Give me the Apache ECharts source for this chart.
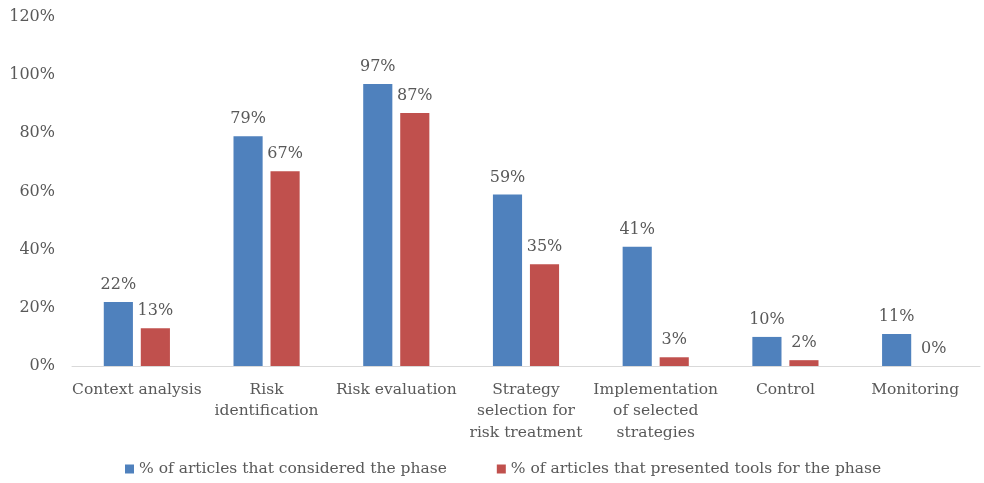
<!DOCTYPE html>
<html>
<head>
<meta charset="utf-8">
<script src="https://cdn.jsdelivr.net/npm/echarts@6/dist/echarts.min.js"></script>
<style>
  html, body { margin: 0; padding: 0; background: #fff; }
  #chart { width: 984px; height: 483px; }
</style>
</head>
<body>
<div id="chart"></div>
<script>
var categories = ['Context analysis', 'Risk\nidentification', 'Risk evaluation',
    'Strategy\nselection for\nrisk treatment', 'Implementation\nof selected\nstrategies',
    'Control', 'Monitoring'];
var considered = [22, 79, 97, 59, 41, 10, 11];
var presented = [13, 67, 87, 35, 3, 2, 0];
var seriesNames = ['% of articles that considered the phase', '% of articles that presented tools for the phase'];

var font = '"DejaVu Serif", serif';
var textColor = '#595959';

var chart = echarts.init(document.getElementById('chart'));
chart.setOption({
    animation: false,
    textStyle: { fontFamily: font },
    grid: { left: 72, right: 4, top: 17, bottom: 117 },
    legend: {
        bottom: 1,
        left: 120,
        itemWidth: 9,
        itemHeight: 9,
        itemGap: 50,
        icon: 'rect',
        textStyle: { fontFamily: font, fontSize: 15.5, color: textColor },
        data: seriesNames
    },
    xAxis: {
        type: 'category',
        data: categories,
        axisLine: { lineStyle: { color: '#d9d9d9' } },
        axisTick: { show: false },
        axisLabel: { fontSize: 15.5, color: textColor, lineHeight: 21.5, margin: 13, interval: 0 }
    },
    yAxis: {
        type: 'value',
        min: 0,
        max: 120,
        interval: 20,
        splitLine: { show: false },
        axisLine: { show: false },
        axisTick: { show: false },
        axisLabel: { fontSize: 16, color: textColor, margin: 17, formatter: '{value}%' }
    },
    series: [{
        name: seriesNames[0],
        type: 'bar',
        data: considered,
        barGap: '27%',
        barCategoryGap: '49%',
        itemStyle: { color: '#4F81BD' },
        label: { show: true, position: 'top', distance: 9, fontSize: 16, color: textColor, formatter: '{c}%' }
    }, {
        name: seriesNames[1],
        type: 'bar',
        data: presented,
        itemStyle: { color: '#C0504D' },
        label: { show: true, position: 'top', distance: 9, fontSize: 16, color: textColor, formatter: '{c}%' }
    }]
});
</script>
</body>
</html>
